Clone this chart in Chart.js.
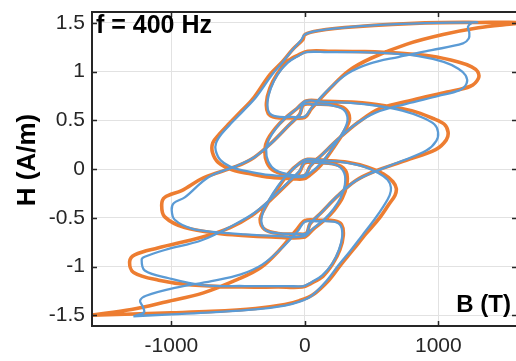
<!DOCTYPE html>
<html>
<head>
<meta charset="utf-8">
<script src="https://cdn.jsdelivr.net/npm/chart.js@4.4.1/dist/chart.umd.min.js"></script>
<style>
  html, body { margin: 0; padding: 0; background: #fff; overflow: hidden; }
  canvas { display: block; }
</style>
</head>
<body>
<canvas id="loopChart" width="516" height="361"></canvas>
<script>
// tick labels
const xTicks = [-1000, 0, 1000];
const yTicks = [-1.5, -1, -0.5, 0, 0.5, 1, 1.5];

// measured loop (orange), [B, H] pairs, in path order
const orangeRise1 = [[-1600,-1.50],[-1350,-1.49],[-1000,-1.475],[-700,-1.46],[-370,-1.43],[-150,-1.39],[-40,-1.35],[60,-1.29],[180,-1.14],[270,-0.98],[360,-0.83],[460,-0.66],[560,-0.50],[630,-0.36],[675,-0.27],[685,-0.20],[660,-0.13],[590,-0.05],[470,0.02],[320,0.07],[150,0.09],[20,0.10]];
const orangeFall1 = [[-40,0.06],[-120,-0.04],[-230,-0.25],[-300,-0.40],[-335,-0.52],[-300,-0.62],[-200,-0.66],[-60,-0.665],[10,-0.66]];
const orangeRise2 = [[40,-0.56],[120,-0.45],[250,-0.27],[380,-0.12],[510,-0.03],[760,0.09],[980,0.20],[1060,0.30],[1073,0.38],[1045,0.46],[960,0.52],[800,0.60],[600,0.65],[380,0.685],[150,0.695],[10,0.70]];
const orangeFall2 = [[-60,0.62],[-150,0.52],[-220,0.42],[-280,0.30],[-300,0.20],[-285,0.07],[-230,-0.02],[-100,-0.07],[0,-0.065]];
const orangeRise3 = [[40,0.03],[130,0.15],[260,0.32],[400,0.48],[560,0.62],[810,0.71],[1065,0.79],[1240,0.85],[1300,0.93],[1295,1.00],[1250,1.05],[1150,1.10],[940,1.16],[700,1.19],[450,1.205],[200,1.21],[20,1.21]];
const orangeFall3 = [[-50,1.17],[-135,1.10],[-210,0.97],[-262,0.83],[-288,0.68],[-275,0.57],[-220,0.53],[-100,0.525],[0,0.53]];
const orangeRise4 = [[50,0.62],[190,0.83],[330,1.01],[500,1.14],[760,1.28],[1035,1.38],[1300,1.45],[1600,1.50]];
const orangeFall4 = [[1300,1.505],[900,1.50],[380,1.46],[100,1.42],[0,1.38],[-15,1.33],[-90,1.23],[-170,1.10],[-262,0.97],[-390,0.72],[-480,0.59],[-565,0.47],[-640,0.36],[-690,0.27],[-692,0.17],[-650,0.07],[-540,-0.01],[-400,-0.05],[-285,-0.08],[-120,-0.095],[-10,-0.10]];
const orangeRise5 = [[40,-0.06],[120,0.04],[230,0.25],[300,0.40],[335,0.52],[300,0.62],[200,0.66],[60,0.665],[-10,0.66]];
const orangeFall5 = [[-40,0.56],[-120,0.45],[-250,0.27],[-380,0.12],[-510,0.03],[-760,-0.09],[-923,-0.22],[-1050,-0.29],[-1073,-0.37],[-1050,-0.49],[-900,-0.60],[-645,-0.66],[-473,-0.68],[-250,-0.695],[-10,-0.70]];
const orangeRise6 = [[60,-0.62],[150,-0.52],[220,-0.42],[280,-0.30],[315,-0.15],[310,-0.03],[250,0.04],[120,0.065],[0,0.065]];
const orangeFall6 = [[-40,-0.03],[-130,-0.15],[-260,-0.32],[-400,-0.48],[-560,-0.60],[-773,-0.70],[-1103,-0.81],[-1275,-0.88],[-1313,-0.95],[-1283,-1.06],[-1095,-1.14],[-848,-1.19],[-473,-1.21],[-200,-1.21],[-20,-1.21]];
const orangeRise7 = [[50,-1.17],[135,-1.10],[210,-0.97],[262,-0.83],[288,-0.68],[275,-0.57],[220,-0.53],[100,-0.525],[0,-0.53]];
const orangeFall7 = [[-60,-0.62],[-190,-0.83],[-330,-1.01],[-500,-1.13],[-760,-1.27],[-1035,-1.36],[-1300,-1.44],[-1600,-1.50]];

// model loop (blue)
const blueRise1 = [[-1285,-1.51],[-1000,-1.49],[-700,-1.47],[-370,-1.44],[-150,-1.40],[-40,-1.36],[50,-1.30],[160,-1.15],[250,-0.99],[340,-0.84],[430,-0.68],[520,-0.52],[590,-0.38],[635,-0.27],[645,-0.19],[620,-0.11],[550,-0.04],[430,0.03],[290,0.07],[130,0.09],[10,0.10]];
const blueFall1 = [[-40,0.06],[-120,-0.04],[-200,-0.17],[-270,-0.32],[-315,-0.45],[-325,-0.55],[-290,-0.63],[-190,-0.66],[-60,-0.665],[10,-0.66]];
const blueRise2 = [[40,-0.56],[120,-0.45],[240,-0.28],[370,-0.13],[500,-0.04],[720,0.08],[910,0.19],[985,0.29],[998,0.38],[970,0.46],[880,0.53],[730,0.60],[540,0.65],[340,0.68],[140,0.69],[10,0.70]];
const blueFall2 = [[-60,0.62],[-150,0.52],[-215,0.42],[-270,0.30],[-290,0.20],[-275,0.08],[-220,-0.01],[-100,-0.06],[0,-0.06]];
const blueRise3 = [[40,0.03],[130,0.15],[250,0.31],[380,0.46],[530,0.58],[760,0.67],[1000,0.75],[1160,0.81],[1212,0.88],[1205,0.96],[1150,1.03],[1040,1.10],[850,1.16],[620,1.19],[380,1.20],[170,1.20],[10,1.20]];
const blueFall3 = [[-50,1.16],[-130,1.09],[-205,0.97],[-255,0.83],[-280,0.69],[-268,0.58],[-215,0.54],[-100,0.535],[0,0.54]];
const blueRise4 = [[50,0.63],[180,0.82],[320,0.98],[480,1.08],[700,1.15],[950,1.22],[1185,1.29],[1228,1.34],[1232,1.40],[1222,1.46],[1250,1.50],[1290,1.505]];
const blueFall4 = [[1000,1.50],[650,1.485],[350,1.46],[100,1.42],[0,1.38],[-30,1.32],[-95,1.22],[-165,1.10],[-245,0.97],[-365,0.74],[-460,0.60],[-545,0.48],[-625,0.36],[-665,0.27],[-668,0.19],[-630,0.09],[-530,0.01],[-400,-0.03],[-270,-0.06],[-120,-0.075],[-10,-0.08]];
const blueRise5 = [[40,-0.04],[120,0.06],[220,0.24],[290,0.39],[320,0.51],[290,0.61],[200,0.655],[60,0.665],[-10,0.665]];
const blueFall5 = [[-40,0.56],[-120,0.45],[-240,0.28],[-370,0.13],[-500,0.04],[-720,-0.08],[-900,-0.29],[-983,-0.35],[-998,-0.42],[-975,-0.52],[-848,-0.61],[-645,-0.65],[-450,-0.67],[-230,-0.685],[-10,-0.69]];
const blueRise6 = [[60,-0.61],[150,-0.51],[215,-0.41],[270,-0.29],[300,-0.16],[295,-0.04],[240,0.04],[120,0.065],[0,0.07]];
const blueFall6 = [[-40,-0.02],[-130,-0.14],[-250,-0.30],[-380,-0.45],[-530,-0.57],[-773,-0.73],[-1050,-0.83],[-1200,-0.90],[-1223,-0.93],[-1200,-1.04],[-1020,-1.12],[-773,-1.19],[-450,-1.20],[-130,-1.20],[-10,-1.20]];
const blueRise7 = [[50,-1.16],[130,-1.09],[205,-0.97],[255,-0.83],[280,-0.69],[268,-0.58],[215,-0.54],[100,-0.535],[0,-0.54]];
const blueFall7 = [[-50,-0.63],[-180,-0.82],[-320,-0.98],[-480,-1.08],[-700,-1.15],[-975,-1.22],[-1190,-1.30],[-1235,-1.35],[-1215,-1.41],[-1205,-1.47],[-1285,-1.51]];

const orangeParts = [orangeRise1, orangeFall1, orangeRise2, orangeFall2, orangeRise3, orangeFall3, orangeRise4,
  orangeFall4, orangeRise5, orangeFall5, orangeRise6, orangeFall6, orangeRise7, orangeFall7];
const blueParts = [blueRise1, blueFall1, blueRise2, blueFall2, blueRise3, blueFall3, blueRise4,
  blueFall4, blueRise5, blueFall5, blueRise6, blueFall6, blueRise7, blueFall7];

function toPoints(parts) {
  const pts = [];
  parts.forEach(p => p.forEach(v => pts.push({ x: v[0], y: v[1] })));
  return pts;
}

const fontFamily = '"Liberation Sans", Arial, Helvetica, sans-serif';
const ink = "#262626";

// axes box, inward ticks and the labels
const framePlugin = {
  id: "frame",
  afterDraw(chart) {
    const c = chart.ctx;
    const a = chart.chartArea;
    const xs = chart.scales.x;
    const ys = chart.scales.y;
    c.save();
    c.strokeStyle = ink;
    c.lineWidth = 2;
    c.beginPath();
    c.moveTo(a.right + 2, a.top);
    c.lineTo(a.left, a.top);
    c.lineTo(a.left, a.bottom);
    c.lineTo(a.right + 2, a.bottom);
    c.stroke();
    c.lineWidth = 1.5;
    c.beginPath();
    xTicks.forEach(v => {
      const px = Math.round(xs.getPixelForValue(v)) + 0.5;
      c.moveTo(px, a.bottom); c.lineTo(px, a.bottom - 5);
      c.moveTo(px, a.top); c.lineTo(px, a.top + 5);
    });
    yTicks.forEach(v => {
      const py = Math.round(ys.getPixelForValue(v)) + 0.5;
      c.moveTo(a.left, py); c.lineTo(a.left + 5, py);
      c.moveTo(a.right, py); c.lineTo(a.right - 4, py);
    });
    c.stroke();

    c.fillStyle = "#000";
    c.font = "bold 25px " + fontFamily;
    c.textAlign = "left";
    c.textBaseline = "alphabetic";
    c.fillText("f = 400 Hz", a.left + 4, 33);
    c.font = "bold 24px " + fontFamily;
    c.textAlign = "right";
    c.fillText("B (T)", 511, 312);
    c.translate(35, 160);
    c.rotate(-Math.PI / 2);
    c.textAlign = "center";
    c.font = "bold 26px " + fontFamily;
    c.fillText("H (A/m)", 0, 0);
    c.restore();
  }
};

const ctx = document.getElementById("loopChart");
const chart = new Chart(ctx, {
  type: "scatter",
  data: {
    datasets: [
      {
        label: "model",
        data: toPoints(blueParts),
        showLine: true,
        borderColor: "#5B9BD5",
        borderWidth: 2.3,
        pointRadius: 0,
        tension: 0.35,
        order: 1
      },
      {
        label: "measured",
        data: toPoints(orangeParts),
        showLine: true,
        borderColor: "#ED7D31",
        borderWidth: 3.6,
        pointRadius: 0,
        tension: 0.35,
        order: 2
      }
    ]
  },
  options: {
    responsive: false,
    animation: false,
    devicePixelRatio: 1,
    layout: { padding: { top: 12, right: 0, left: 0, bottom: 0 } },
    plugins: { legend: { display: false }, tooltip: { enabled: false } },
    scales: {
      x: {
        type: "linear",
        min: -1595,
        max: 1582,
        afterBuildTicks: s => { s.ticks = xTicks.map(v => ({ value: v })); },
        afterFit: s => { s.height = 35; s.paddingLeft = 0; s.paddingRight = 0; },
        grid: { color: "#e2e2e2", lineWidth: 1, drawTicks: false },
        border: { display: false },
        ticks: { padding: 8, color: ink, font: { family: fontFamily, size: 21 }, callback: v => String(v), maxRotation: 0 }
      },
      y: {
        type: "linear",
        min: -1.61,
        max: 1.612,
        afterBuildTicks: s => { s.ticks = yTicks.map(v => ({ value: v })); },
        afterFit: s => { s.width = 92; s.paddingTop = 0; s.paddingBottom = 0; },
        grid: { color: "#e2e2e2", lineWidth: 1, drawTicks: false },
        border: { display: false },
        ticks: { padding: 7, color: ink, font: { family: fontFamily, size: 21 }, callback: v => String(v) }
      }
    }
  },
  plugins: [framePlugin]
});
</script>
</body>
</html>
